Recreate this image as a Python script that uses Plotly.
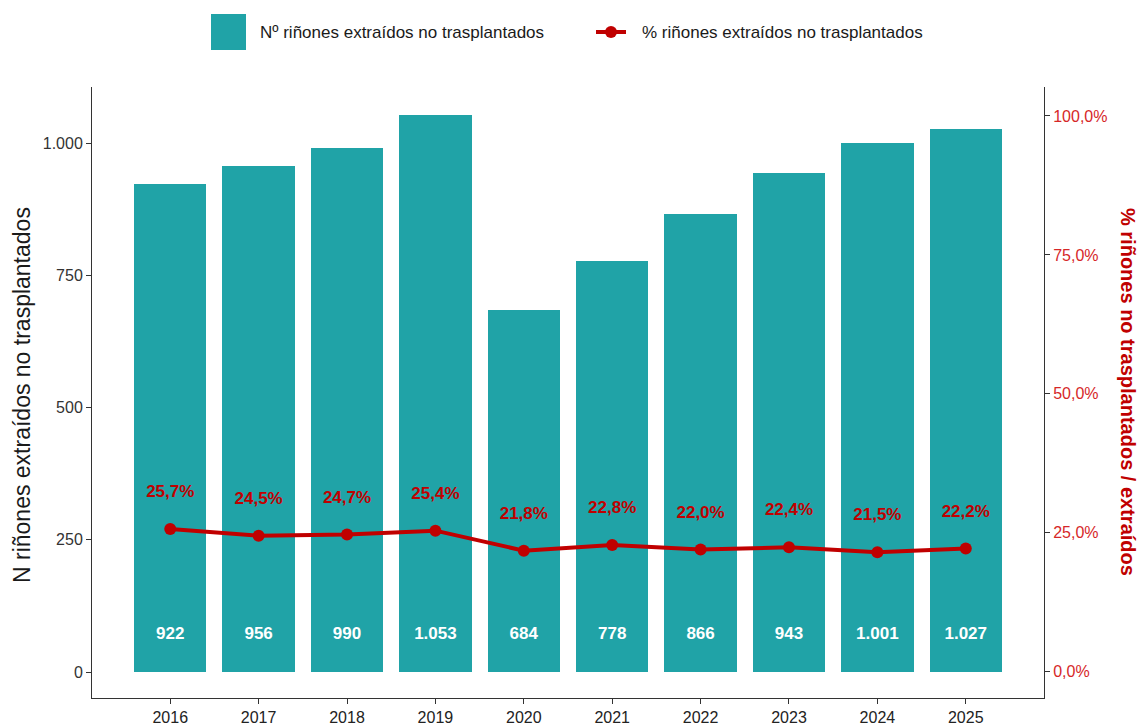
import plotly.graph_objects as go

years = ["2016", "2017", "2018", "2019", "2020", "2021", "2022", "2023", "2024", "2025"]
counts = [922, 956, 990, 1053, 684, 778, 866, 943, 1001, 1027]
pcts = [25.7, 24.5, 24.7, 25.4, 21.8, 22.8, 22.0, 22.4, 21.5, 22.2]

left_ticks = [0, 250, 500, 750, 1000]
left_ticktext = ["0", "250", "500", "750", "1.000"]
right_ticks = [0, 25, 50, 75, 100]
right_ticktext = ["0,0%", "25,0%", "50,0%", "75,0%", "100,0%"]

bar_name = "Nº riñones extraídos no trasplantados"
line_name = "% riñones extraídos no trasplantados"

TEAL = "#20A3A7"
RED = "#C00000"
FONT = "Liberation Sans, Arial, sans-serif"

W, H = 1139, 727
ML, MR, MT, MB = 92, 95, 87, 29
PW, PH = W - ML - MR, H - MT - MB

def px_x(px):
    return (px - ML) / PW

def px_y(py):
    return (H - MB - py) / PH

def fmt_int(v):
    return f"{v:,}".replace(",", ".")

def fmt_pct(v):
    return f"{v:.1f}%".replace(".", ",")

x_idx = list(range(len(years)))

fig = go.Figure()
fig.add_trace(go.Bar(
    x=x_idx, y=counts, name=bar_name,
    marker=dict(color=TEAL, line=dict(width=0)), width=0.82,
    yaxis="y", hoverinfo="skip", showlegend=False))
fig.add_trace(go.Scatter(
    x=x_idx, y=pcts, name=line_name,
    mode="lines+markers", line=dict(color=RED, width=4),
    marker=dict(color=RED, size=12), yaxis="y2", showlegend=False))
# value labels inside bars
fig.add_trace(go.Scatter(
    x=x_idx, y=[70] * len(counts), mode="text",
    text=[fmt_int(v) for v in counts],
    textfont=dict(color="white", size=17, family=FONT, weight="bold"),
    showlegend=False, yaxis="y", hoverinfo="skip"))
# percent labels
fig.add_trace(go.Scatter(
    x=x_idx, y=[p + 6.5 for p in pcts], mode="text",
    text=[fmt_pct(p) for p in pcts],
    textfont=dict(color=RED, size=17, family=FONT, weight="bold"),
    showlegend=False, yaxis="y2", hoverinfo="skip"))

shapes = [
    # legend: bar key
    dict(type="rect", xref="paper", yref="paper",
         x0=px_x(211), x1=px_x(246), y0=px_y(50), y1=px_y(14),
         fillcolor=TEAL, line=dict(width=0)),
    # legend: line key
    dict(type="line", xref="paper", yref="paper",
         x0=px_x(596), x1=px_x(626), y0=px_y(32), y1=px_y(32),
         line=dict(color=RED, width=4)),
    dict(type="circle", xref="paper", yref="paper",
         x0=px_x(605), x1=px_x(617), y0=px_y(38), y1=px_y(26),
         fillcolor=RED, line=dict(width=0)),
]

annotations = [
    dict(text=bar_name, xref="paper", yref="paper", x=px_x(258), y=px_y(32),
         xanchor="left", yanchor="middle", showarrow=False,
         font=dict(size=17, color="#1a1a1a", family=FONT)),
    dict(text=line_name, xref="paper", yref="paper", x=px_x(640), y=px_y(32),
         xanchor="left", yanchor="middle", showarrow=False,
         font=dict(size=17, color="#1a1a1a", family=FONT)),
    dict(text="N riñones extraídos no trasplantados", xref="paper", yref="paper",
         x=0, y=px_y(395), xshift=-70, xanchor="center", yanchor="middle",
         textangle=-90, showarrow=False,
         font=dict(size=23, color="#1a1a1a", family=FONT)),
    dict(text="<b>% riñones no trasplantados / extraídos</b>", xref="paper", yref="paper",
         x=1, y=px_y(392), xshift=84, xanchor="center", yanchor="middle",
         textangle=90, showarrow=False,
         font=dict(size=20, color=RED, family=FONT)),
]

fig.update_layout(
    width=W, height=H,
    margin=dict(l=ML, r=MR, t=MT, b=MB, autoexpand=False),
    paper_bgcolor="white", plot_bgcolor="white",
    font=dict(family=FONT, size=16, color="#333333"),
    bargap=0, showlegend=False,
    xaxis=dict(range=[-0.885, 9.885], tickmode="array", tickvals=x_idx, ticktext=years,
               showline=True, linecolor="#333333", linewidth=1, automargin=False,
               ticks="outside", ticklen=5, tickcolor="#333333",
               tickfont=dict(size=16, color="#222222"), showgrid=False, zeroline=False),
    yaxis=dict(range=[-49, 1106], tickmode="array", tickvals=left_ticks,
               ticktext=left_ticktext, showline=True, linecolor="#333333", linewidth=1,
               ticks="outside", ticklen=5, tickcolor="#333333", automargin=False,
               tickfont=dict(size=16, color="#333333"), showgrid=False, zeroline=False),
    yaxis2=dict(range=[-4.7, 105.2], overlaying="y", side="right", tickmode="array",
                tickvals=right_ticks, ticktext=right_ticktext, automargin=False,
                showline=True, linecolor="#333333", linewidth=1,
                ticks="outside", ticklen=5, tickcolor="#333333",
                tickfont=dict(size=16, color="#D62728"), showgrid=False, zeroline=False),
    shapes=shapes,
    annotations=annotations,
)
fig.write_html("out.html", config={"displayModeBar": False},
               post_script="document.body.style.margin='0';document.body.style.overflow='hidden';")
